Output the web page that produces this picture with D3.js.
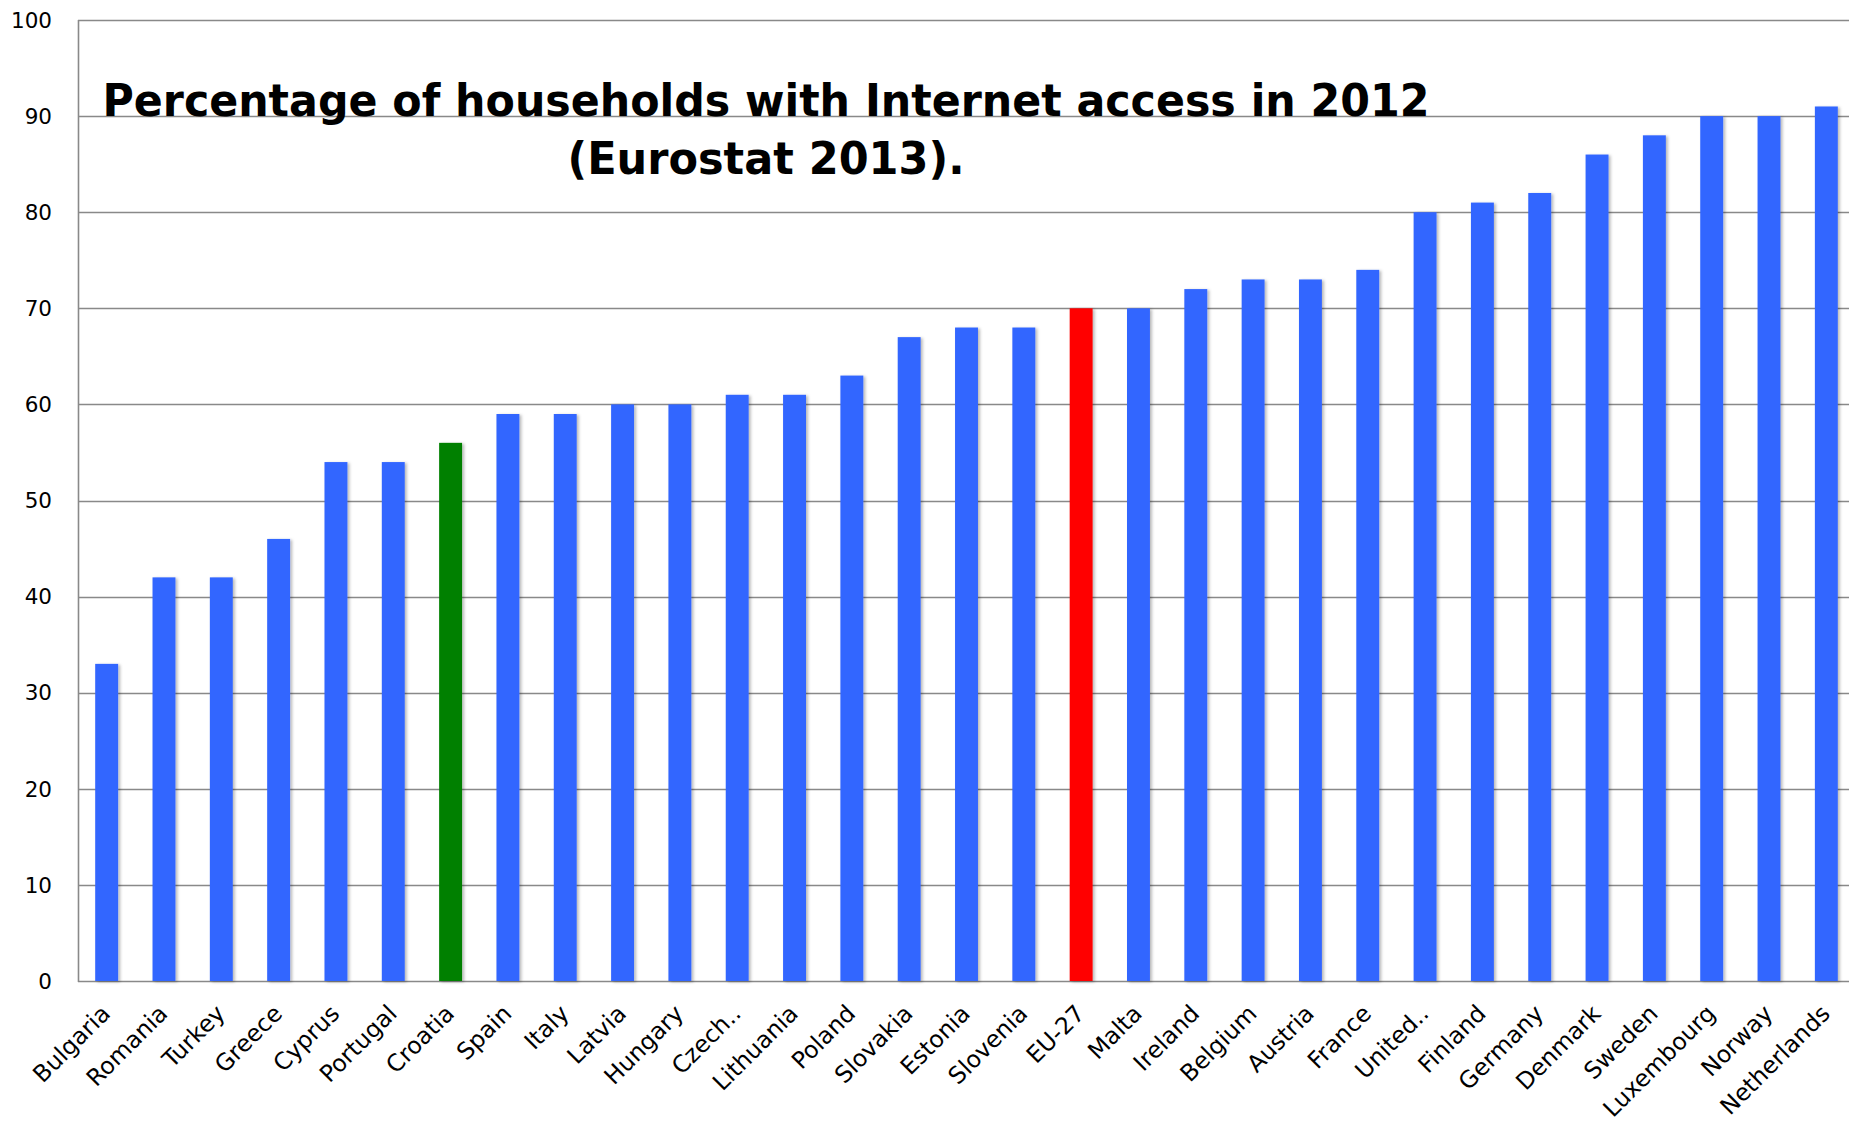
<!DOCTYPE html>
<html>
<head>
<meta charset="utf-8">
<script src="https://cdn.jsdelivr.net/npm/d3@7"></script>
<style>
  html, body { margin: 0; padding: 0; background: #fff; }
  svg { display: block; }
</style>
</head>
<body>
<div id="chart"></div>
<script>
// ___________DATA___________//
const countries = ["Bulgaria", "Romania", "Turkey", "Greece", "Cyprus", "Portugal", "Croatia",
    "Spain", "Italy", "Latvia", "Hungary", "Czech..", "Lithuania", "Poland", "Slovakia",
    "Estonia", "Slovenia", "EU-27", "Malta", "Ireland", "Belgium", "Austria", "France",
    "United..", "Finland", "Germany", "Denmark", "Sweden", "Luxembourg", "Norway", "Netherlands"]

const values = [33, 42, 42, 46, 54, 54, 56, 59, 59, 60, 60, 61, 61, 63, 67,
    68, 68, 70, 70, 72, 73, 73, 74, 80, 81, 82, 86, 88, 90, 90, 91]

const highlight = {"Croatia": "#008000", "EU-27": "#ff0000"}
const yTicks = [0, 10, 20, 30, 40, 50, 60, 70, 80, 90, 100]
const titleLines = ["Percentage of households with Internet access in 2012", "(Eurostat 2013)."]

// ___________LAYOUT___________//
const WIDTH = 1849
const HEIGHT = 1121
const margin = {top: 20, left: 78, bottom: 140}
const plotRight = 1855
const titleWidths = [1327, 397]

const svg = d3.select('#chart').append('svg')
    .attr('width', WIDTH)
    .attr('height', HEIGHT)

const defs = svg.append('defs')
const shadow = defs.append('filter')
    .attr('id', 'barShadow')
    .attr('x', '-20%').attr('y', '-5%')
    .attr('width', '160%').attr('height', '120%')
shadow.append('feDropShadow')
    .attr('dx', 2).attr('dy', 1)
    .attr('stdDeviation', 1.6)
    .attr('flood-color', '#000')
    .attr('flood-opacity', 0.28)

const x = d3.scaleBand()
    .domain(countries)
    .range([margin.left, plotRight])
    .paddingInner(0.6)
    .paddingOuter(0.3)

const y = d3.scaleLinear()
    .domain([0, 100])
    .range([HEIGHT - margin.bottom, margin.top])

// ___________GRID + AXES___________//
const grid = svg.append('g').attr('class', 'grid')
grid.selectAll('line')
    .data(yTicks)
    .join('line')
    .attr('x1', margin.left)
    .attr('x2', WIDTH)
    .attr('y1', d => Math.round(y(d)) + 0.5)
    .attr('y2', d => Math.round(y(d)) + 0.5)
    .attr('stroke', '#898989')
    .attr('stroke-width', 1.6)

svg.append('line')
    .attr('x1', margin.left + 0.5)
    .attr('x2', margin.left + 0.5)
    .attr('y1', y(100))
    .attr('y2', y(0) + 1)
    .attr('stroke', '#898989')
    .attr('stroke-width', 1.6)

svg.append('g')
    .attr('class', 'y-labels')
    .selectAll('text')
    .data(yTicks)
    .join('text')
    .attr('x', margin.left - 26)
    .attr('y', d => y(d))
    .attr('dy', '0.36em')
    .attr('text-anchor', 'end')
    .attr('font-family', 'DejaVu Sans, Verdana, sans-serif')
    .attr('font-size', 21.5)
    .attr('fill', '#000')
    .text(d => d)

// ___________BARS___________//
svg.append('g')
    .attr('class', 'bars')
    .selectAll('rect')
    .data(countries)
    .join('rect')
    .attr('x', d => x(d))
    .attr('y', (d, i) => y(values[i]))
    .attr('width', x.bandwidth())
    .attr('height', (d, i) => y(0) - y(values[i]))
    .attr('fill', d => highlight[d] || '#3366ff')
    .attr('filter', 'url(#barShadow)')

// ___________CATEGORY LABELS___________//
svg.append('g')
    .attr('class', 'x-labels')
    .selectAll('text')
    .data(countries)
    .join('text')
    .attr('transform', d => `translate(${x(d) + x.bandwidth() / 2 + 5},${y(0) + 34}) rotate(-45)`)
    .attr('text-anchor', 'end')
    .attr('font-family', 'DejaVu Sans, Verdana, sans-serif')
    .attr('font-size', 23.5)
    .attr('fill', '#000')
    .text(d => d)

// ___________TITLE___________//
svg.append('g')
    .attr('class', 'title')
    .selectAll('text')
    .data(titleLines)
    .join('text')
    .attr('x', 766)
    .attr('y', (d, i) => 116 + i * 58)
    .attr('text-anchor', 'middle')
    .attr('font-family', 'DejaVu Sans Condensed, DejaVu Sans, sans-serif')
    .attr('font-stretch', 'condensed')
    .attr('font-weight', 'bold')
    .attr('font-size', 45)
    .attr('textLength', (d, i) => titleWidths[i])
    .attr('lengthAdjust', 'spacingAndGlyphs')
    .attr('fill', '#000')
    .text(d => d)
</script>
</body>
</html>
